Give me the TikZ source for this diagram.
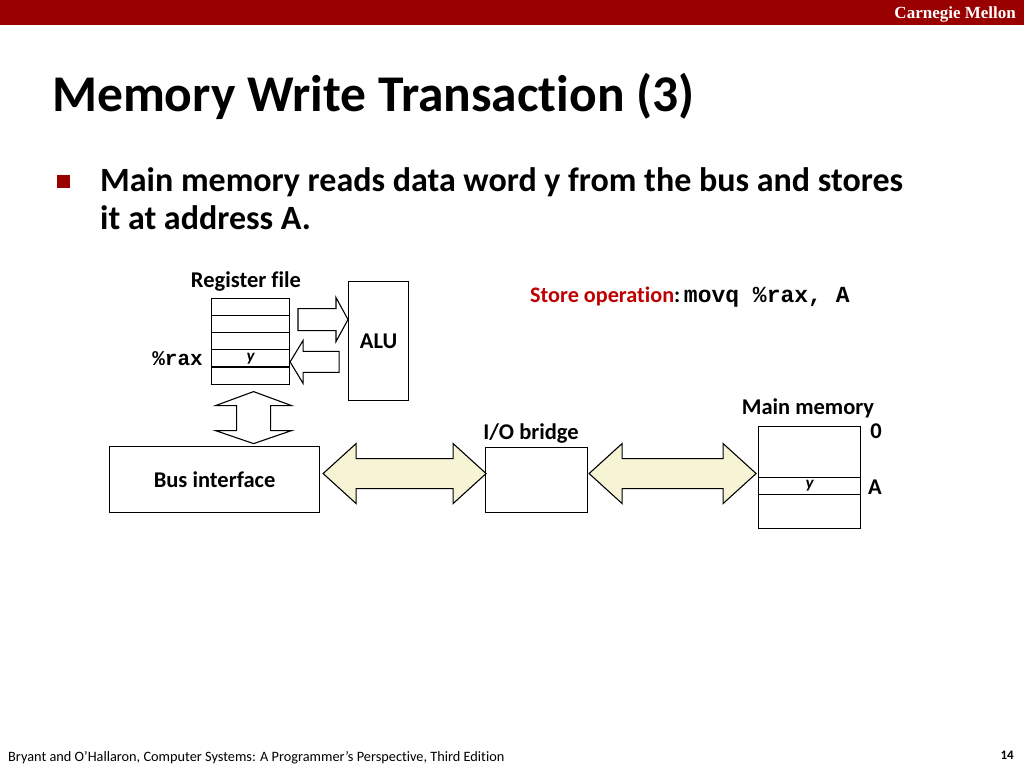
\documentclass[tikz,border=0pt]{standalone}
\usepackage{fontspec}
\setmainfont{Carlito}[Ligatures=NoCommon]
\newfontfamily\codefont{Liberation Mono}
\newfontfamily\cmufont{Liberation Serif}
\usetikzlibrary{calc}
\definecolor{cmurouge}{RGB}{153,0,0}
\definecolor{oprouge}{RGB}{192,0,0}
\definecolor{busjaune}{RGB}{246,244,212}
\tikzset{
  boite/.style={draw,line width=1.1pt,inner sep=0pt,anchor=north west},
  etiq/.style={font=\fontsize{22.5}{26}\selectfont\bfseries,inner sep=0pt},
  fleche/.style={draw,line width=1.1pt,fill=white,line join=miter},
  flechebus/.style={fleche,fill=busjaune},
}
\newcommand{\busfleche}[2]{\draw[flechebus] #1 -- ++(33,-30) -- ++(0,15) -- ++(#2,0) -- ++(0,-15) -- ++(33,30) -- ++(-33,30) -- ++(0,-15) -- ++(-#2,0) -- ++(0,15) -- cycle;}
\begin{document}
\begin{tikzpicture}[x=1pt,y=-1pt]
\useasboundingbox (0,0) rectangle (1024,768);
\fill[cmurouge] (0,0) rectangle (1024,25); %Banniere
\node[anchor=base east,text=white,font=\cmufont\fontsize{17}{19}\selectfont\bfseries,inner sep=0pt] (cmu) at (1016,19) {Carnegie Mellon};
\node[anchor=base west,font=\fontsize{51.5}{60}\selectfont\bfseries,inner sep=0pt] (titre) at (52,111) {Memory Write Transaction (3)};
\fill[cmurouge] (57,175) rectangle (70,188); %Puce
\node[anchor=base west,font=\fontsize{34}{40}\selectfont\bfseries,inner sep=0pt] (texte1) at (100,191) {Main memory reads data word y from the bus and stores};
\node[anchor=base west,font=\fontsize{34}{40}\selectfont\bfseries,inner sep=0pt] (texte2) at (100,229) {it at address A.};
% Banc de registres
\node[etiq] (rflabel) at (246,282) {Register file};
\foreach \i in {0,...,4}
  \node[boite,minimum width=78pt,minimum height=17.1pt] (r\i) at (211,{298+17.1*\i}) {};
\node[font=\fontsize{17}{19}\selectfont\bfseries\itshape,inner sep=0pt] (ry) at (r3) {y};
\node[anchor=east,font=\codefont\fontsize{21}{24}\selectfont\bfseries,inner sep=0pt] (rax) at ($(r3.west)+(-8,0)$) {\%rax};
\node[boite,minimum width=60pt,minimum height=119pt,font=\fontsize{22.5}{26}\selectfont\bfseries] (alu) at (348,281) {ALU};
\draw[fleche] ($(alu.west)+(0,-21.5)$) -- ++(-12,-22) -- ++(0,11) -- ++(-38,0) -- ++(0,22) -- ++(38,0) -- ++(0,11) -- cycle; %Vers ALU
\draw[fleche] ($(r3.east)+(0,3.5)$) -- ++(13,-21.5) -- ++(0,11) -- ++(36,0) -- ++(0,21) -- ++(-36,0) -- ++(0,11) -- cycle; %Retour ALU
\draw[fleche] ($(r4.south)+(3,7)$) -- ++(38,14) -- ++(-21,0) -- ++(0,25) -- ++(21,0) -- ++(-38,13) -- ++(-38,-13) -- ++(21,0) -- ++(0,-25) -- ++(-21,0) -- cycle; %Registres-bus
% Bus
\node[boite,minimum width=210pt,minimum height=66pt,font=\fontsize{22.5}{26}\selectfont\bfseries] (bus) at (109,446) {Bus interface};
\node[boite,minimum width=102pt,minimum height=65pt] (io) at (485,447) {};
\node[etiq] (iolabel) at (531,434) {I/O bridge};
\node[boite,minimum width=102pt,minimum height=102pt] (mem) at (758,426) {};
\node[boite,minimum width=102pt,minimum height=17pt,font=\fontsize{17}{19}\selectfont\bfseries\itshape] (memA) at (758,477) {y};
\node[etiq] (memlabel) at (808,408) {Main memory};
\node[etiq] (adr0) at (876,431) {0};
\node[etiq] (adrA) at (875,487) {A};
\busfleche{($(bus.east)+(3,-6)$)}{97} %Bus systeme
\busfleche{($(io.east)+(1,-6.5)$)}{101} %Bus memoire
\node[anchor=base west,font=\fontsize{22.2}{26}\selectfont\bfseries,inner sep=0pt] (store) at (530,302) {\textcolor{oprouge}{Store operation}:\,{\codefont\fontsize{23}{26}\selectfont\bfseries movq \%rax, A}};
% Pied de page
\node[anchor=base west,font=\fontsize{14.3}{17}\selectfont,inner sep=0pt] (pied) at (8,761) {Bryant and O’Hallaron, Computer Systems: A Programmer’s Perspective, Third Edition};
\node[anchor=base east,font=\fontsize{13}{16}\selectfont\bfseries,inner sep=0pt] (page) at (1014,759) {14};
\end{tikzpicture}
\end{document}
